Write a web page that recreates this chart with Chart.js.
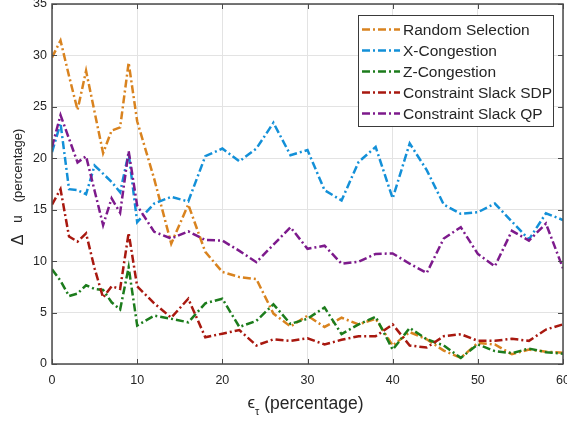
<!DOCTYPE html>
<html>
<head>
<meta charset="utf-8">
<script src="https://cdn.jsdelivr.net/npm/chart.js@4.4.1/dist/chart.umd.min.js"></script>
<style>
  html, body { margin: 0; padding: 0; background: #fff; }
  canvas { display: block; }
</style>
</head>
<body>
<canvas id="c" width="567" height="421"></canvas>
<script>
// x samples: step 1 up to 10, then step 2
const xValues = [0, 1, 2, 3, 4, 5, 6, 7, 8, 9, 10,
  12, 14, 16, 18, 20, 22, 24, 26, 28, 30, 32, 34, 36, 38, 40,
  42, 44, 46, 48, 50, 52, 54, 56, 58, 60];

const randomSelection = [29.8, 31.45, 28.0, 24.7, 28.5, 24.5, 20.5, 22.7, 23.0, 29.3, 23.6,
  18.0, 11.7, 15.5, 10.9, 8.95, 8.45, 8.25, 4.9, 3.65, 4.7, 3.6, 4.5, 3.85, 4.4, 1.8,
  3.1, 2.4, 1.3, 0.6, 2.05, 1.9, 0.95, 1.4, 1.2, 1.1];

const xCongestion = [20.6, 23.4, 17.0, 16.9, 16.5, 19.3, 18.5, 17.7, 16.7, 20.5, 13.8,
  15.6, 16.25, 15.8, 20.2, 20.95, 19.7, 20.95, 23.45, 20.3, 20.8, 16.9, 15.9, 19.65, 21.1, 16.1,
  21.45, 18.85, 15.5, 14.6, 14.75, 15.6, 13.85, 12.1, 14.65, 14.0];

const zCongestion = [9.2, 8.1, 6.6, 6.85, 7.65, 7.3, 7.2, 6.0, 5.3, 9.4, 3.75,
  4.7, 4.4, 4.05, 5.9, 6.35, 3.6, 4.2, 5.8, 3.9, 4.4, 5.5, 2.9, 3.85, 4.6, 1.4,
  3.5, 2.4, 1.8, 0.6, 1.9, 1.25, 1.05, 1.5, 1.15, 1.0];

const slackSDP = [15.5, 17.0, 12.4, 11.9, 12.7, 9.3, 6.45, 7.55, 7.3, 12.75, 7.55,
  5.9, 4.5, 6.35, 2.6, 2.95, 3.3, 1.8, 2.4, 2.25, 2.5, 1.9, 2.35, 2.7, 2.7, 3.85,
  1.8, 1.6, 2.7, 2.9, 2.25, 2.25, 2.45, 2.25, 3.35, 3.85];

const slackQP = [21.1, 24.2, 21.9, 19.6, 20.2, 16.85, 13.5, 16.1, 14.7, 20.7, 15.4,
  12.85, 12.2, 12.9, 12.05, 12.0, 11.0, 9.9, 11.6, 13.3, 11.2, 11.5, 9.75, 9.95, 10.7, 10.75,
  9.75, 8.85, 12.2, 13.3, 10.7, 9.5, 12.95, 12.0, 13.65, 9.3];

const seriesNames = ['Random Selection', 'X-Congestion', 'Z-Congestion',
  'Constraint Slack SDP', 'Constraint Slack QP'];
const seriesColors = ['#D9831F', '#1390D8', '#1C7C1C', '#A8180F', '#7D1A8C'];
const seriesValues = [randomSelection, xCongestion, zCongestion, slackSDP, slackQP];

const xTicks = [0, 10, 20, 30, 40, 50, 60];
const yTicks = [0, 5, 10, 15, 20, 25, 30, 35];

const DASH = [8, 3, 2, 3];
const FONT = "'Liberation Sans', Arial, Helvetica, sans-serif";
const TEXT = '#262626';

// MATLAB-ish box with inward ticks, legend, axis titles
const matlabFrame = {
  id: 'matlabFrame',
  afterDatasetsDraw(chart) {
    const { ctx, chartArea: a, scales: { x, y } } = chart;
    ctx.save();
    ctx.strokeStyle = '#4a4a4a';
    ctx.lineWidth = 1.5;
    ctx.strokeRect(a.left, a.top, a.right - a.left, a.bottom - a.top);
    ctx.lineWidth = 1;
    ctx.beginPath();
    for (const v of xTicks) {
      const px = Math.round(x.getPixelForValue(v)) + 0.5;
      ctx.moveTo(px, a.bottom); ctx.lineTo(px, a.bottom - 5);
      ctx.moveTo(px, a.top); ctx.lineTo(px, a.top + 5);
    }
    for (const v of yTicks) {
      const py = Math.round(y.getPixelForValue(v)) + 0.5;
      ctx.moveTo(a.left, py); ctx.lineTo(a.left + 5, py);
      ctx.moveTo(a.right, py); ctx.lineTo(a.right - 5, py);
    }
    ctx.stroke();
    ctx.restore();
  },
  afterDraw(chart) {
    const { ctx, chartArea: a } = chart;
    ctx.save();

    // legend
    const box = { l: 358, t: 15, r: 553, b: 126 };
    ctx.fillStyle = '#fff';
    ctx.fillRect(box.l, box.t, box.r - box.l, box.b - box.t);
    ctx.strokeStyle = '#3a3a3a';
    ctx.lineWidth = 1;
    ctx.strokeRect(box.l + 0.5, box.t + 0.5, box.r - box.l, box.b - box.t);
    ctx.font = '15.5px ' + FONT;
    ctx.textBaseline = 'middle';
    ctx.textAlign = 'left';
    seriesNames.forEach((name, i) => {
      const rowY = 29.5 + i * 21;
      ctx.strokeStyle = seriesColors[i];
      ctx.lineWidth = 2.5;
      ctx.setLineDash(DASH);
      ctx.beginPath();
      ctx.moveTo(362, rowY); ctx.lineTo(400, rowY);
      ctx.stroke();
      ctx.setLineDash([]);
      ctx.fillStyle = TEXT;
      ctx.fillText(name, 403, rowY + 1);
    });

    // y title, pieces placed along the rotated axis (Δ and u are wider in the original)
    const yTitle = [
      { text: '\u0394', size: 16, at: 240 },
      { text: 'u', size: 14, at: 219 },
      { text: '(percentage)', size: 13, at: 165.5 },
    ];
    ctx.fillStyle = TEXT;
    ctx.textAlign = 'center';
    ctx.textBaseline = 'middle';
    for (const p of yTitle) {
      ctx.save();
      ctx.translate(18.5, p.at);
      ctx.rotate(-Math.PI / 2);
      ctx.font = p.size + 'px ' + FONT;
      ctx.fillText(p.text, 0, 0);
      ctx.restore();
    }

    // x title: epsilon with tau subscript
    const eps = '\u03F5', tau = '\u03C4', rest = ' (percentage)';
    ctx.textAlign = 'left';
    ctx.textBaseline = 'alphabetic';
    ctx.font = '17px ' + FONT;
    const wEps = ctx.measureText(eps).width;
    ctx.font = '11px ' + FONT;
    const wTau = ctx.measureText(tau).width;
    ctx.font = '17.5px ' + FONT;
    const wRest = ctx.measureText(rest).width;
    let tx = (a.left + a.right) / 2 - (wEps + wTau + wRest) / 2 - 2;
    ctx.font = '17px ' + FONT;
    ctx.fillText(eps, tx, 408);
    tx += wEps;
    ctx.font = '11px ' + FONT;
    ctx.fillText(tau, tx, 415);
    tx += wTau;
    ctx.font = '17.5px ' + FONT;
    ctx.fillText(rest, tx, 409);

    ctx.restore();
  }
};

const datasets = seriesValues.map((vals, i) => ({
  label: seriesNames[i],
  data: xValues.map((x, j) => ({ x, y: vals[j] })),
  borderColor: seriesColors[i],
  backgroundColor: seriesColors[i],
  borderWidth: 2.5,
  borderDash: DASH,
  pointRadius: 0,
  tension: 0,
  fill: false,
  order: seriesValues.length - i,
}));

new Chart(document.getElementById('c'), {
  type: 'line',
  data: { datasets },
  options: {
    responsive: false,
    animation: false,
    devicePixelRatio: 1,
    layout: { padding: { left: 0, right: 4, top: 4, bottom: 0 } },
    plugins: { legend: { display: false }, tooltip: { enabled: false } },
    scales: {
      x: {
        type: 'linear', min: 0, max: 60,
        afterFit: s => { s.height = 57; s.paddingLeft = 0; s.paddingRight = 0; },
        afterBuildTicks: s => { s.ticks = xTicks.map(v => ({ value: v })); },
        grid: { color: '#e3e3e3', lineWidth: 1, drawTicks: false },
        border: { display: false },
        ticks: { color: TEXT, font: { family: FONT, size: 12.5 }, padding: 9, maxRotation: 0 },
      },
      y: {
        min: 0, max: 35,
        afterFit: s => { s.width = 52; s.paddingTop = 0; s.paddingBottom = 0; },
        afterBuildTicks: s => { s.ticks = yTicks.map(v => ({ value: v })); },
        grid: { color: '#e3e3e3', lineWidth: 1, drawTicks: false },
        border: { display: false },
        ticks: { color: TEXT, font: { family: FONT, size: 12.5 }, padding: 5 },
      },
    },
  },
  plugins: [matlabFrame],
});
</script>
</body>
</html>
